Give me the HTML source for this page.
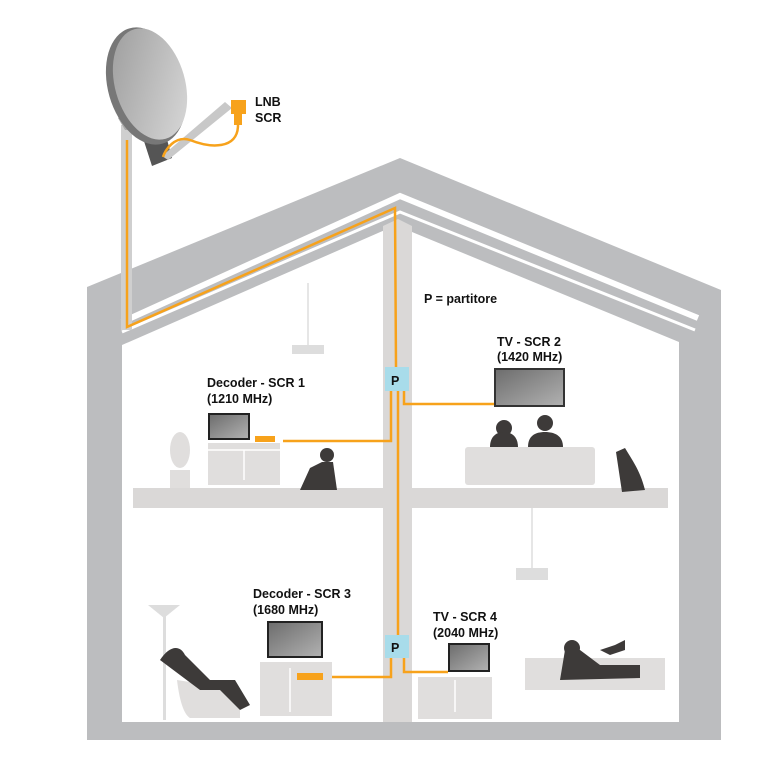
<!DOCTYPE html>
<html><head><meta charset="utf-8"><style>
html,body{margin:0;padding:0;background:#fff;width:767px;height:765px;overflow:hidden}
svg{display:block}
text{font-family:"Liberation Sans",Arial,sans-serif;font-weight:bold;font-size:12.5px;fill:#111}
</style></head><body>
<svg width="767" height="765" viewBox="0 0 767 765" xmlns="http://www.w3.org/2000/svg">
<defs>
<linearGradient id="tv" x1="0" y1="0" x2="1" y2="1"><stop offset="0" stop-color="#6e6e6e"/><stop offset="1" stop-color="#b0b0b0"/></linearGradient>
<linearGradient id="dish" x1="0" y1="0" x2="1" y2="1"><stop offset="0" stop-color="#9a9a9a"/><stop offset="1" stop-color="#dcdcdc"/></linearGradient>
</defs>
<!-- house outer -->
<polygon points="87,740 87,287 400,158 721,290 721,740" fill="#bcbdbf"/>
<!-- roof white stripes -->
<polyline points="122,322 400,196 698,318" fill="none" stroke="#fff" stroke-width="6"/>
<polyline points="122,332 400,212 695,330" fill="none" stroke="#fff" stroke-width="3"/>
<!-- interior -->
<polygon points="122,722 122,345 385,230 385,722" fill="#fff"/>
<polygon points="412,722 412,232 679,342 679,722" fill="#fff"/>
<!-- column & slab -->
<polygon points="383,722 383,226 398,219 412,226 412,722" fill="#dad8d7"/>
<rect x="133" y="488" width="535" height="20" fill="#dad8d7"/>
<rect x="87" y="722" width="634" height="18" fill="#bcbdbf"/>
<!-- mast -->
<rect x="121" y="125" width="11" height="205" fill="#cfcfcf"/>
<!-- dish -->
<polygon points="118,118 140,108 150,130 125,130" fill="#aaa"/>
<polygon points="142,135 165,132 172,158 152,166" fill="#555"/>
<ellipse cx="146" cy="86" rx="38" ry="60" transform="rotate(-16 146 86)" fill="#777"/>
<ellipse cx="150" cy="84" rx="35" ry="57" transform="rotate(-16 150 84)" fill="url(#dish)"/>
<polygon points="162,156 225,102 232,108 168,160" fill="#c8c8c8"/>
<rect x="231" y="100" width="15" height="14" fill="#f7a21b"/>
<rect x="234" y="113" width="8" height="12" fill="#f7a21b"/>
<!-- orange cables -->
<g fill="none" stroke="#f7a21b" stroke-width="2.5">
<path d="M238,125 C238,150 210,148 190,140 C175,135 165,150 163,157"/>
<polyline points="127,140 127,327 395,208 396,367"/>
<polyline points="391,391 391,441 283,441"/>
<polyline points="404,391 404,404 494,404"/>
<polyline points="398,391 398,635"/>
<polyline points="391,658 391,677 328,677"/>
<polyline points="404,658 404,672 448,672"/>
</g>
<!-- P boxes -->
<rect x="385" y="367" width="24" height="24" fill="#a8dcea"/>
<text x="391" y="385" font-size="15">P</text>
<rect x="385" y="635" width="24" height="23" fill="#a8dcea"/>
<text x="391" y="652" font-size="15">P</text>
<!-- lamps -->
<line x1="308" y1="283" x2="308" y2="345" stroke="#ddd" stroke-width="1.5"/>
<rect x="292" y="345" width="32" height="9" fill="#ddd"/>
<line x1="532" y1="508" x2="532" y2="568" stroke="#ddd" stroke-width="1.5"/>
<rect x="516" y="568" width="32" height="12" fill="#ddd"/>
<!-- upper left room -->
<rect x="208" y="413" width="42" height="27" fill="#222"/><rect x="210" y="415" width="38" height="23" fill="url(#tv)"/>
<rect x="208" y="443" width="72" height="42" fill="#e0dedd"/>
<line x1="244" y1="450" x2="244" y2="480" stroke="#fff" stroke-width="1.5"/>
<line x1="208" y1="450" x2="280" y2="450" stroke="#fff" stroke-width="1.5"/>
<rect x="255" y="436" width="20" height="6" fill="#f7a21b"/>
<rect x="170" y="470" width="20" height="18" fill="#e0dedd"/>
<ellipse cx="180" cy="450" rx="10" ry="18" fill="#e0dedd"/>
<circle cx="327" cy="455" r="7" fill="#3d3a39"/>
<path d="M300,490 L310,468 L322,462 L333,462 L337,490 Z" fill="#3d3a39"/>
<!-- upper right room -->
<rect x="494" y="368" width="71" height="39" fill="#333"/><rect x="496" y="370" width="67" height="35" fill="url(#tv)"/>
<rect x="465" y="447" width="130" height="38" rx="3" fill="#e0dedd"/>
<circle cx="504" cy="428" r="8" fill="#3d3a39"/>
<path d="M490,447 C490,438 495,432 504,432 C513,432 518,438 518,447 Z" fill="#3d3a39"/>
<circle cx="545" cy="423" r="8" fill="#3d3a39"/>
<path d="M528,447 C528,436 535,432 545,432 C555,432 563,436 563,447 Z" fill="#3d3a39"/>
<path d="M616,452 L625,448 C632,460 640,470 645,490 L622,492 Z" fill="#3d3a39"/>
<!-- lower left room -->
<polygon points="148,605 180,605 164,618" fill="#ddd"/>
<rect x="163" y="615" width="3" height="105" fill="#ddd"/>
<path d="M177,680 C180,705 185,715 190,718 L240,718 L240,690 Z" fill="#e0dedd"/>
<path d="M160,660 C170,645 180,645 185,655 L210,680 L235,680 L250,705 L240,710 L220,690 L200,690 Z" fill="#3d3a39"/>
<rect x="267" y="621" width="56" height="37" fill="#222"/><rect x="269" y="623" width="52" height="33" fill="url(#tv)"/>
<rect x="260" y="662" width="72" height="54" fill="#e0dedd"/>
<line x1="290" y1="668" x2="290" y2="712" stroke="#fff" stroke-width="1.5"/>
<rect x="297" y="673" width="26" height="7" fill="#f7a21b"/>
<!-- lower right room -->
<rect x="448" y="643" width="42" height="29" fill="#222"/><rect x="450" y="645" width="38" height="25" fill="url(#tv)"/>
<rect x="418" y="677" width="74" height="42" fill="#e0dedd"/>
<line x1="455" y1="680" x2="455" y2="712" stroke="#fff" stroke-width="1.5"/>
<rect x="525" y="658" width="140" height="32" fill="#e0dedd"/>
<circle cx="572" cy="648" r="8" fill="#3d3a39"/>
<path d="M565,650 L580,650 L600,665 L640,665 L640,678 L560,680 Z" fill="#3d3a39"/>
<path d="M600,650 L615,645 L625,640 L625,650 L610,655 Z" fill="#3d3a39"/>
<!-- labels -->
<text x="255" y="106">LNB</text><text x="255" y="122">SCR</text>
<text x="424" y="303">P = partitore</text>
<text x="207" y="387">Decoder - SCR 1</text><text x="207" y="403">(1210 MHz)</text>
<text x="497" y="346">TV - SCR 2</text><text x="497" y="361">(1420 MHz)</text>
<text x="253" y="598">Decoder - SCR 3</text><text x="253" y="614">(1680 MHz)</text>
<text x="433" y="621">TV - SCR 4</text><text x="433" y="637">(2040 MHz)</text>
</svg>
</body></html>
